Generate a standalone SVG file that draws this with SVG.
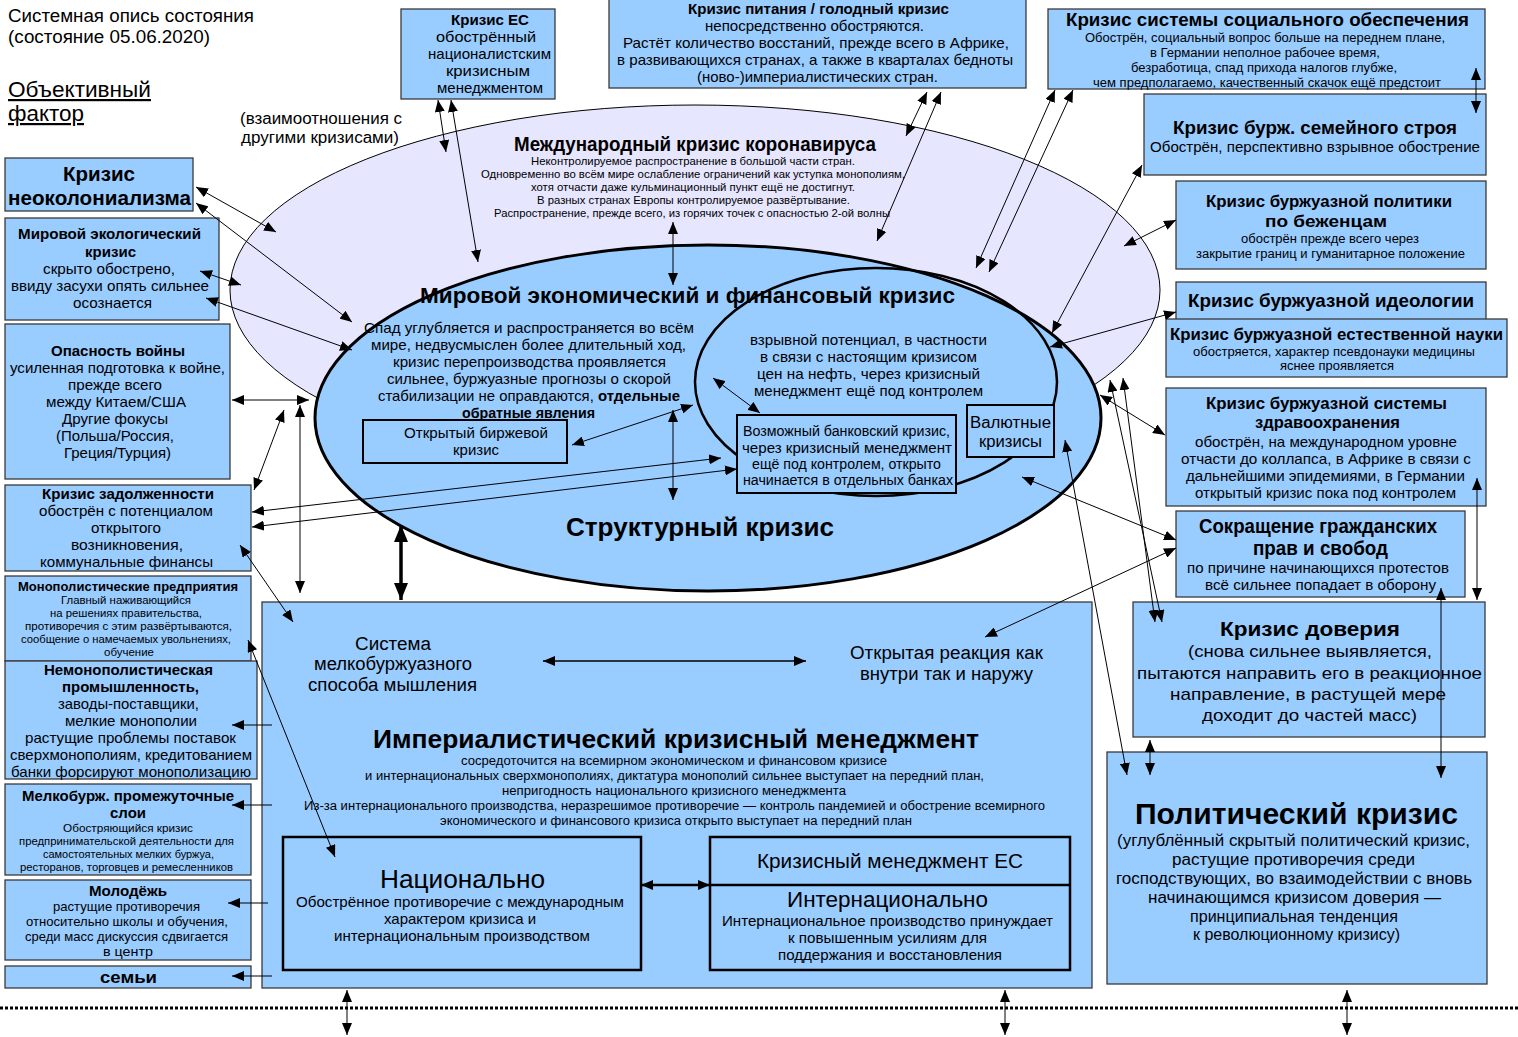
<svg xmlns="http://www.w3.org/2000/svg" width="1518" height="1037" viewBox="0 0 1518 1037">
<style>
text{font-family:"Liberation Sans",Arial,sans-serif;fill:#000}
.b{font-weight:bold}
.box{fill:#99ccff;stroke:#3a3a3a;stroke-width:1.3}
.c line,.c path{stroke:#000;stroke-width:1;fill:none}
</style>
<defs>
<marker id="a" markerUnits="userSpaceOnUse" markerWidth="13" markerHeight="10" refX="12" refY="5" orient="auto-start-reverse"><path d="M0,0 L12,5 L0,10 z" fill="#000"/></marker>
<marker id="A" markerUnits="userSpaceOnUse" markerWidth="18" markerHeight="14" refX="17" refY="7" orient="auto-start-reverse"><path d="M0,0 L17,7 L0,14 z" fill="#000"/></marker>
</defs>
<rect width="1518" height="1037" fill="#fff"/>

<g id="header">
<text x="8" y="22" font-size="18" textLength="246" lengthAdjust="spacingAndGlyphs">Системная опись состояния</text>
<text x="8" y="43" font-size="18" textLength="202" lengthAdjust="spacingAndGlyphs">(состояние 05.06.2020)</text>
<text x="8" y="97" font-size="22" textLength="143" lengthAdjust="spacingAndGlyphs" text-decoration="underline">Объективный</text>
<text x="8" y="121" font-size="22" textLength="76" lengthAdjust="spacingAndGlyphs" text-decoration="underline">фактор</text>
</g>

<g id="corona">
<ellipse cx="695" cy="290" rx="465" ry="185" fill="#e6e6ff" stroke="#000" stroke-width="1"/>
<text class="b" x="514" y="151" font-size="20" textLength="362" lengthAdjust="spacingAndGlyphs">Международный кризис коронавируса</text>
<text x="531" y="165" font-size="11" textLength="324" lengthAdjust="spacingAndGlyphs">Неконтролируемое распространение в большой части стран.</text>
<text x="481" y="178" font-size="11" textLength="424" lengthAdjust="spacingAndGlyphs">Одновременно во всём мире ослабление ограничений как уступка монополиям,</text>
<text x="531" y="191" font-size="11" textLength="324" lengthAdjust="spacingAndGlyphs">хотя отчасти даже кульминационный пункт ещё не достигнут.</text>
<text x="537" y="204" font-size="11" textLength="313" lengthAdjust="spacingAndGlyphs">В разных странах Европы контролируемое развёртывание.</text>
<text x="494" y="217" font-size="11" textLength="396" lengthAdjust="spacingAndGlyphs">Распространение, прежде всего, из горячих точек с опасностью 2-ой волны</text>
</g>
<text x="240" y="124" font-size="16" textLength="162" lengthAdjust="spacingAndGlyphs">(взаимоотношения с</text>
<text x="241" y="143" font-size="16" textLength="158" lengthAdjust="spacingAndGlyphs">другими кризисами)</text>

<g id="structural">
<ellipse cx="708" cy="418" rx="393" ry="173" fill="#99ccff" stroke="#000" stroke-width="3"/>
<text class="b" x="420" y="303" font-size="22" textLength="535" lengthAdjust="spacingAndGlyphs">Мировой экономический и финансовый кризис</text>
<text x="364" y="333" font-size="14.5" textLength="330" lengthAdjust="spacingAndGlyphs">Спад углубляется и распространяется во всём</text>
<text x="371" y="350" font-size="14.5" textLength="315" lengthAdjust="spacingAndGlyphs">мире, недвусмыслен более длительный ход,</text>
<text x="393" y="367" font-size="14.5" textLength="273" lengthAdjust="spacingAndGlyphs">кризис перепроизводства проявляется</text>
<text x="387" y="384" font-size="14.5" textLength="284" lengthAdjust="spacingAndGlyphs">сильнее, буржуазные прогнозы о скорой</text>
<text x="378" y="401" font-size="14.5" textLength="302" lengthAdjust="spacingAndGlyphs">стабилизации не оправдаются, <tspan class="b">отдельные</tspan></text>
<text class="b" x="462" y="418" font-size="14.5" textLength="133" lengthAdjust="spacingAndGlyphs">обратные явления</text>
<text class="b" x="566" y="536" font-size="25" textLength="268" lengthAdjust="spacingAndGlyphs">Структурный кризис</text>
</g>

<g id="stock">
<rect x="363" y="420" width="204" height="43" fill="#99ccff" stroke="#000" stroke-width="2"/>
<text x="404" y="438" font-size="14.5" textLength="144" lengthAdjust="spacingAndGlyphs">Открытый биржевой</text>
<text x="453" y="455" font-size="14.5" textLength="46" lengthAdjust="spacingAndGlyphs">кризис</text>
</g>

<g id="financial">
<ellipse cx="876" cy="382" rx="181" ry="114" fill="none" stroke="#000" stroke-width="2.5"/>
<text x="750" y="345" font-size="14.5" textLength="237" lengthAdjust="spacingAndGlyphs">взрывной потенциал, в частности</text>
<text x="760" y="362" font-size="14.5" textLength="217" lengthAdjust="spacingAndGlyphs">в связи с настоящим кризисом</text>
<text x="757" y="379" font-size="14.5" textLength="223" lengthAdjust="spacingAndGlyphs">цен на нефть, через кризисный</text>
<text x="754" y="396" font-size="14.5" textLength="229" lengthAdjust="spacingAndGlyphs">менеджмент ещё под контролем</text>
</g>

<g id="bank">
<rect x="737" y="415" width="219" height="78" fill="#99ccff" stroke="#000" stroke-width="2"/>
<text x="743" y="436" font-size="14" textLength="207" lengthAdjust="spacingAndGlyphs">Возможный банковский кризис,</text>
<text x="742" y="453" font-size="14" textLength="210" lengthAdjust="spacingAndGlyphs">через кризисный менеджмент</text>
<text x="752" y="469" font-size="14" textLength="189" lengthAdjust="spacingAndGlyphs">ещё под контролем, открыто</text>
<text x="743" y="485" font-size="14" textLength="210" lengthAdjust="spacingAndGlyphs">начинается в отдельных банках</text>
</g>

<g id="currency">
<rect x="967" y="405" width="87" height="52" fill="#99ccff" stroke="#000" stroke-width="2"/>
<text x="970" y="428" font-size="16" textLength="81" lengthAdjust="spacingAndGlyphs">Валютные</text>
<text x="979" y="447" font-size="16" textLength="63" lengthAdjust="spacingAndGlyphs">кризисы</text>
</g>

<g id="eu">
<rect class="box" x="401" y="9" width="154" height="90"/>
<text class="b" x="451" y="25" font-size="15" textLength="78" lengthAdjust="spacingAndGlyphs">Кризис ЕС</text>
<text x="436" y="42" font-size="15" textLength="100" lengthAdjust="spacingAndGlyphs">обострённый</text>
<text x="428" y="59" font-size="15" textLength="123" lengthAdjust="spacingAndGlyphs">националистским</text>
<text x="446" y="76" font-size="15" textLength="84" lengthAdjust="spacingAndGlyphs">кризисным</text>
<text x="437" y="93" font-size="15" textLength="106" lengthAdjust="spacingAndGlyphs">менеджментом</text>
</g>

<g id="food">
<rect class="box" x="609" y="-2" width="417" height="90"/>
<text class="b" x="688" y="14" font-size="15" textLength="261" lengthAdjust="spacingAndGlyphs">Кризис питания / голодный кризис</text>
<text x="705" y="31" font-size="15" textLength="219" lengthAdjust="spacingAndGlyphs">непосредственно обостряются.</text>
<text x="623" y="48" font-size="15" textLength="386" lengthAdjust="spacingAndGlyphs">Растёт количество восстаний, прежде всего в Африке,</text>
<text x="617" y="65" font-size="15" textLength="396" lengthAdjust="spacingAndGlyphs">в развивающихся странах, а также в кварталах бедноты</text>
<text x="697" y="82" font-size="15" textLength="241" lengthAdjust="spacingAndGlyphs">(ново-)империалистических стран.</text>
</g>

<g id="social">
<rect class="box" x="1048" y="9" width="437" height="80"/>
<text class="b" x="1066" y="26" font-size="19" textLength="403" lengthAdjust="spacingAndGlyphs">Кризис системы социального обеспечения</text>
<text x="1085" y="42" font-size="12.5" textLength="360" lengthAdjust="spacingAndGlyphs">Обострён, социальный вопрос больше на переднем плане,</text>
<text x="1150" y="57" font-size="12.5" textLength="230" lengthAdjust="spacingAndGlyphs">в Германии неполное рабочее время,</text>
<text x="1131" y="72" font-size="12.5" textLength="266" lengthAdjust="spacingAndGlyphs">безработица, спад прихода налогов глубже,</text>
<text x="1093" y="87" font-size="12.5" textLength="348" lengthAdjust="spacingAndGlyphs">чем предполагаемо, качественный скачок ещё предстоит</text>
</g>

<g id="family">
<rect class="box" x="1144" y="94" width="342" height="81"/>
<text class="b" x="1173" y="134" font-size="19" textLength="284" lengthAdjust="spacingAndGlyphs">Кризис бурж. семейного строя</text>
<text x="1150" y="152" font-size="15" textLength="330" lengthAdjust="spacingAndGlyphs">Обострён, перспективно взрывное обострение</text>
</g>

<g id="refugees">
<rect class="box" x="1176" y="181" width="310" height="88"/>
<text class="b" x="1206" y="207" font-size="16" textLength="246" lengthAdjust="spacingAndGlyphs">Кризис буржуазной политики</text>
<text class="b" x="1265" y="227" font-size="16" textLength="122" lengthAdjust="spacingAndGlyphs">по беженцам</text>
<text x="1241" y="243" font-size="12.5" textLength="178" lengthAdjust="spacingAndGlyphs">обострён прежде всего через</text>
<text x="1196" y="258" font-size="12.5" textLength="269" lengthAdjust="spacingAndGlyphs">закрытие границ и гуманитарное положение</text>
</g>

<g id="ideology">
<rect class="box" x="1176" y="282" width="310" height="38"/>
<text class="b" x="1188" y="307" font-size="19" textLength="286" lengthAdjust="spacingAndGlyphs">Кризис буржуазной идеологии</text>
</g>

<g id="science">
<rect class="box" x="1166" y="319" width="341" height="58"/>
<text class="b" x="1170" y="340" font-size="16.5" textLength="333" lengthAdjust="spacingAndGlyphs">Кризис буржуазной естественной науки</text>
<text x="1193" y="356" font-size="12.5" textLength="282" lengthAdjust="spacingAndGlyphs">обостряется, характер псевдонауки медицины</text>
<text x="1280" y="370" font-size="12.5" textLength="114" lengthAdjust="spacingAndGlyphs">яснее проявляется</text>
</g>

<g id="health">
<rect class="box" x="1166" y="388" width="320" height="118"/>
<text class="b" x="1206" y="409" font-size="16" textLength="241" lengthAdjust="spacingAndGlyphs">Кризис буржуазной системы</text>
<text class="b" x="1255" y="428" font-size="16" textLength="145" lengthAdjust="spacingAndGlyphs">здравоохранения</text>
<text x="1195" y="447" font-size="15" textLength="262" lengthAdjust="spacingAndGlyphs">обострён, на международном уровне</text>
<text x="1181" y="464" font-size="15" textLength="290" lengthAdjust="spacingAndGlyphs">отчасти до коллапса, в Африке в связи с</text>
<text x="1186" y="481" font-size="15" textLength="279" lengthAdjust="spacingAndGlyphs">дальнейшими эпидемиями, в Германии</text>
<text x="1195" y="498" font-size="15" textLength="261" lengthAdjust="spacingAndGlyphs">открытый кризис пока под контролем</text>
</g>

<g id="rights">
<rect class="box" x="1176" y="511" width="289" height="86"/>
<text class="b" x="1199" y="533" font-size="19.5" textLength="238" lengthAdjust="spacingAndGlyphs">Сокращение гражданских</text>
<text class="b" x="1253" y="555" font-size="19.5" textLength="135" lengthAdjust="spacingAndGlyphs">прав и свобод</text>
<text x="1187" y="573" font-size="15" textLength="262" lengthAdjust="spacingAndGlyphs">по причине начинающихся протестов</text>
<text x="1205" y="590" font-size="15" textLength="231" lengthAdjust="spacingAndGlyphs">всё сильнее попадает в оборону</text>
</g>

<g id="trust">
<rect class="box" x="1133" y="602" width="352" height="135"/>
<text class="b" x="1220" y="636" font-size="21" textLength="180" lengthAdjust="spacingAndGlyphs">Кризис доверия</text>
<text x="1188" y="657" font-size="17" textLength="244" lengthAdjust="spacingAndGlyphs">(снова сильнее выявляется,</text>
<text x="1137" y="679" font-size="17" textLength="345" lengthAdjust="spacingAndGlyphs">пытаются направить его в реакционное</text>
<text x="1170" y="700" font-size="17" textLength="276" lengthAdjust="spacingAndGlyphs">направление, в растущей мере</text>
<text x="1202" y="721" font-size="17" textLength="215" lengthAdjust="spacingAndGlyphs">доходит до частей масс)</text>
</g>

<g id="political">
<rect class="box" x="1107" y="752" width="380" height="232"/>
<text class="b" x="1135" y="824" font-size="29" textLength="323" lengthAdjust="spacingAndGlyphs">Политический кризис</text>
<text x="1117" y="846" font-size="16" textLength="353" lengthAdjust="spacingAndGlyphs">(углублённый скрытый политический кризис,</text>
<text x="1172" y="865" font-size="16" textLength="243" lengthAdjust="spacingAndGlyphs">растущие противоречия среди</text>
<text x="1116" y="884" font-size="16" textLength="356" lengthAdjust="spacingAndGlyphs">господствующих, во взаимодействии с вновь</text>
<text x="1148" y="903" font-size="16" textLength="293" lengthAdjust="spacingAndGlyphs">начинающимся кризисом доверия —</text>
<text x="1190" y="922" font-size="16" textLength="208" lengthAdjust="spacingAndGlyphs">принципиальная тенденция</text>
<text x="1193" y="940" font-size="16" textLength="207" lengthAdjust="spacingAndGlyphs">к революционному кризису)</text>
</g>

<g id="neocolonial">
<rect class="box" x="5" y="158" width="188" height="53"/>
<text class="b" x="63" y="181" font-size="20" textLength="72" lengthAdjust="spacingAndGlyphs">Кризис</text>
<text class="b" x="8" y="205" font-size="20" textLength="183" lengthAdjust="spacingAndGlyphs">неоколониализма</text>
</g>

<g id="ecology">
<rect class="box" x="5" y="218" width="214" height="102"/>
<text class="b" x="18" y="239" font-size="15" textLength="183" lengthAdjust="spacingAndGlyphs">Мировой экологический</text>
<text class="b" x="85" y="257" font-size="15" textLength="51" lengthAdjust="spacingAndGlyphs">кризис</text>
<text x="43" y="274" font-size="15" textLength="132" lengthAdjust="spacingAndGlyphs">скрыто обострено,</text>
<text x="11" y="291" font-size="15" textLength="198" lengthAdjust="spacingAndGlyphs">ввиду засухи опять сильнее</text>
<text x="73" y="308" font-size="15" textLength="79" lengthAdjust="spacingAndGlyphs">осознается</text>
</g>

<g id="war">
<rect class="box" x="5" y="324" width="225" height="155"/>
<text class="b" x="51" y="356" font-size="15" textLength="134" lengthAdjust="spacingAndGlyphs">Опасность войны</text>
<text x="10" y="373" font-size="15" textLength="215" lengthAdjust="spacingAndGlyphs">усиленная подготовка к войне,</text>
<text x="68" y="390" font-size="15" textLength="94" lengthAdjust="spacingAndGlyphs">прежде всего</text>
<text x="46" y="407" font-size="15" textLength="140" lengthAdjust="spacingAndGlyphs">между Китаем/США</text>
<text x="62" y="424" font-size="15" textLength="106" lengthAdjust="spacingAndGlyphs">Другие фокусы</text>
<text x="56" y="441" font-size="15" textLength="118" lengthAdjust="spacingAndGlyphs">(Польша/Россия,</text>
<text x="64" y="458" font-size="15" textLength="107" lengthAdjust="spacingAndGlyphs">Греция/Турция)</text>
</g>

<g id="debt">
<rect class="box" x="5" y="485" width="246" height="86"/>
<text class="b" x="42" y="499" font-size="15" textLength="172" lengthAdjust="spacingAndGlyphs">Кризис задолженности</text>
<text x="39" y="516" font-size="15" textLength="174" lengthAdjust="spacingAndGlyphs">обострён с потенциалом</text>
<text x="91" y="533" font-size="15" textLength="70" lengthAdjust="spacingAndGlyphs">открытого</text>
<text x="71" y="550" font-size="15" textLength="112" lengthAdjust="spacingAndGlyphs">возникновения,</text>
<text x="40" y="567" font-size="15" textLength="173" lengthAdjust="spacingAndGlyphs">коммунальные финансы</text>
</g>

<g id="monopoly">
<rect class="box" x="5" y="576" width="246" height="85"/>
<text class="b" x="18" y="591" font-size="13" textLength="220" lengthAdjust="spacingAndGlyphs">Монополистические предприятия</text>
<text x="61" y="604" font-size="11" textLength="130" lengthAdjust="spacingAndGlyphs">Главный наживающийся</text>
<text x="50" y="617" font-size="11" textLength="152" lengthAdjust="spacingAndGlyphs">на решениях правительства,</text>
<text x="25" y="630" font-size="11" textLength="207" lengthAdjust="spacingAndGlyphs">противоречия с этим развёртываются,</text>
<text x="21" y="643" font-size="11" textLength="210" lengthAdjust="spacingAndGlyphs">сообщение о намечаемых увольнениях,</text>
<text x="104" y="656" font-size="11" textLength="50" lengthAdjust="spacingAndGlyphs">обучение</text>
</g>

<g id="nonmonopoly">
<rect class="box" x="5" y="661" width="252" height="118"/>
<text class="b" x="44" y="675" font-size="15" textLength="169" lengthAdjust="spacingAndGlyphs">Немонополистическая</text>
<text class="b" x="62" y="692" font-size="15" textLength="137" lengthAdjust="spacingAndGlyphs">промышленность,</text>
<text x="58" y="709" font-size="15" textLength="141" lengthAdjust="spacingAndGlyphs">заводы-поставщики,</text>
<text x="65" y="726" font-size="15" textLength="132" lengthAdjust="spacingAndGlyphs">мелкие монополии</text>
<text x="25" y="743" font-size="15" textLength="211" lengthAdjust="spacingAndGlyphs">растущие проблемы поставок</text>
<text x="10" y="760" font-size="15" textLength="242" lengthAdjust="spacingAndGlyphs">сверхмонополиям, кредитованием</text>
<text x="11" y="777" font-size="15" textLength="240" lengthAdjust="spacingAndGlyphs">банки форсируют монополизацию</text>
</g>

<g id="pettybourg">
<rect class="box" x="5" y="784" width="246" height="91"/>
<text class="b" x="22" y="801" font-size="15" textLength="212" lengthAdjust="spacingAndGlyphs">Мелкобурж. промежуточные</text>
<text class="b" x="110" y="818" font-size="15" textLength="36" lengthAdjust="spacingAndGlyphs">слои</text>
<text x="63" y="832" font-size="11" textLength="130" lengthAdjust="spacingAndGlyphs">Обостряющийся кризис</text>
<text x="19" y="845" font-size="11" textLength="215" lengthAdjust="spacingAndGlyphs">предпринимательской деятельности для</text>
<text x="43" y="858" font-size="11" textLength="171" lengthAdjust="spacingAndGlyphs">самостоятельных мелких буржуа,</text>
<text x="20" y="871" font-size="11" textLength="213" lengthAdjust="spacingAndGlyphs">ресторанов, торговцев и ремесленников</text>
</g>

<g id="youth">
<rect class="box" x="5" y="880" width="246" height="80"/>
<text class="b" x="89" y="896" font-size="15" textLength="78" lengthAdjust="spacingAndGlyphs">Молодёжь</text>
<text x="53" y="911" font-size="13" textLength="147" lengthAdjust="spacingAndGlyphs">растущие противоречия</text>
<text x="26" y="926" font-size="13" textLength="202" lengthAdjust="spacingAndGlyphs">относительно школы и обучения,</text>
<text x="25" y="941" font-size="13" textLength="203" lengthAdjust="spacingAndGlyphs">среди масс дискуссия сдвигается</text>
<text x="103" y="956" font-size="13" textLength="50" lengthAdjust="spacingAndGlyphs">в центр</text>
</g>

<g id="families">
<rect class="box" x="5" y="966" width="246" height="22"/>
<text class="b" x="100" y="983" font-size="17" textLength="57" lengthAdjust="spacingAndGlyphs">семьи</text>
</g>

<g id="imperialist">
<rect class="box" x="262" y="602" width="830" height="386"/>
<text x="355" y="650" font-size="18" textLength="76" lengthAdjust="spacingAndGlyphs">Система</text>
<text x="314" y="670" font-size="18" textLength="158" lengthAdjust="spacingAndGlyphs">мелкобуржуазного</text>
<text x="308" y="691" font-size="18" textLength="169" lengthAdjust="spacingAndGlyphs">способа мышления</text>
<text x="850" y="659" font-size="18" textLength="193" lengthAdjust="spacingAndGlyphs">Открытая реакция как</text>
<text x="860" y="680" font-size="18" textLength="173" lengthAdjust="spacingAndGlyphs">внутри так и наружу</text>
<text class="b" x="373" y="748" font-size="26" textLength="606" lengthAdjust="spacingAndGlyphs">Империалистический кризисный менеджмент</text>
<text x="461" y="765" font-size="12.5" textLength="426" lengthAdjust="spacingAndGlyphs">сосредоточится на всемирном экономическом и финансовом кризисе</text>
<text x="365" y="780" font-size="12.5" textLength="619" lengthAdjust="spacingAndGlyphs">и интернациональных сверхмонополиях, диктатура монополий сильнее выступает на передний план,</text>
<text x="502" y="795" font-size="12.5" textLength="344" lengthAdjust="spacingAndGlyphs">непригодность национального кризисного менеджмента</text>
<text x="304" y="810" font-size="12.5" textLength="741" lengthAdjust="spacingAndGlyphs">Из-за интернационального производства, неразрешимое противоречие — контроль пандемией и обострение всемирного</text>
<text x="440" y="825" font-size="12.5" textLength="472" lengthAdjust="spacingAndGlyphs">экономического и финансового кризиса открыто выступает на передний план</text>
</g>

<g id="national">
<rect x="283" y="837" width="358" height="133" fill="#99ccff" stroke="#000" stroke-width="2.5"/>
<text x="380" y="888" font-size="26" textLength="165" lengthAdjust="spacingAndGlyphs">Национально</text>
<text x="296" y="907" font-size="14.5" textLength="328" lengthAdjust="spacingAndGlyphs">Обострённое противоречие с международным</text>
<text x="384" y="924" font-size="14.5" textLength="152" lengthAdjust="spacingAndGlyphs">характером кризиса и</text>
<text x="334" y="941" font-size="14.5" textLength="256" lengthAdjust="spacingAndGlyphs">интернациональным производством</text>
</g>

<g id="international">
<rect x="710" y="837" width="360" height="133" fill="#99ccff" stroke="#000" stroke-width="2.5"/>
<line x1="710" y1="885" x2="1070" y2="885" stroke="#000" stroke-width="2.5"/>
<text x="757" y="868" font-size="20" textLength="266" lengthAdjust="spacingAndGlyphs">Кризисный менеджмент ЕС</text>
<text x="787" y="907" font-size="22" textLength="201" lengthAdjust="spacingAndGlyphs">Интернационально</text>
<text x="722" y="926" font-size="14.5" textLength="331" lengthAdjust="spacingAndGlyphs">Интернациональное производство принуждает</text>
<text x="788" y="943" font-size="14.5" textLength="199" lengthAdjust="spacingAndGlyphs">к повышенным усилиям для</text>
<text x="778" y="960" font-size="14.5" textLength="224" lengthAdjust="spacingAndGlyphs">поддержания и восстановления</text>
</g>

<g id="connectors" class="c">
<line x1="196" y1="187" x2="276" y2="232" marker-start="url(#a)" marker-end="url(#a)"/>
<line x1="196" y1="203" x2="352" y2="322" marker-start="url(#a)" marker-end="url(#a)"/>
<line x1="200" y1="271" x2="241" y2="285" marker-start="url(#a)" marker-end="url(#a)"/>
<line x1="206" y1="298" x2="352" y2="350" marker-start="url(#a)" marker-end="url(#a)"/>
<line x1="232" y1="400" x2="309" y2="400" marker-start="url(#a)" marker-end="url(#a)"/>
<line x1="254" y1="490" x2="284" y2="410" marker-start="url(#a)" marker-end="url(#a)"/>
<line x1="300" y1="405" x2="300" y2="593" marker-start="url(#a)" marker-end="url(#a)"/>
<line x1="252" y1="512" x2="721" y2="458" marker-start="url(#a)" marker-end="url(#a)"/>
<line x1="252" y1="527" x2="737" y2="469" marker-start="url(#a)" marker-end="url(#a)"/>
<line x1="240" y1="545" x2="293" y2="622" marker-start="url(#a)" marker-end="url(#a)"/>
<line x1="248" y1="640" x2="335" y2="857" marker-start="url(#a)" marker-end="url(#a)"/>
<line x1="272" y1="725" x2="232" y2="725" marker-end="url(#a)"/>
<line x1="272" y1="805" x2="232" y2="805" marker-end="url(#a)"/>
<line x1="268" y1="903" x2="228" y2="903" marker-end="url(#a)"/>
<line x1="272" y1="976" x2="232" y2="976" marker-end="url(#a)"/>
<line x1="438" y1="100" x2="446" y2="152" marker-start="url(#a)" marker-end="url(#a)"/>
<line x1="451" y1="100" x2="478" y2="262" marker-start="url(#a)" marker-end="url(#a)"/>
<line x1="673" y1="222" x2="673" y2="285" marker-start="url(#a)" marker-end="url(#a)"/>
<line x1="927" y1="92" x2="906" y2="136" marker-start="url(#a)" marker-end="url(#a)"/>
<line x1="941" y1="92" x2="877" y2="241" marker-start="url(#a)" marker-end="url(#a)"/>
<line x1="1055" y1="90" x2="976" y2="268" marker-start="url(#a)" marker-end="url(#a)"/>
<line x1="1073" y1="90" x2="989" y2="272" marker-start="url(#a)" marker-end="url(#a)"/>
<line x1="1476" y1="68" x2="1476" y2="113" marker-start="url(#a)" marker-end="url(#a)"/>
<line x1="1142" y1="165" x2="1052" y2="333" marker-start="url(#a)" marker-end="url(#a)"/>
<line x1="1176" y1="220" x2="1124" y2="246" marker-start="url(#a)" marker-end="url(#a)"/>
<line x1="1176" y1="312" x2="1050" y2="347" marker-start="url(#a)" marker-end="url(#a)"/>
<line x1="1165" y1="435" x2="1100" y2="395" marker-start="url(#a)" marker-end="url(#a)"/>
<line x1="1176" y1="540" x2="1022" y2="477" marker-start="url(#a)" marker-end="url(#a)"/>
<line x1="1176" y1="548" x2="985" y2="637" marker-start="url(#a)" marker-end="url(#a)"/>
<line x1="1162" y1="622" x2="1110" y2="380" marker-start="url(#a)" marker-end="url(#a)"/>
<line x1="1155" y1="622" x2="1123" y2="378" marker-start="url(#a)" marker-end="url(#a)"/>
<line x1="1127" y1="775" x2="1065" y2="440" marker-start="url(#a)" marker-end="url(#a)"/>
<line x1="1150" y1="740" x2="1150" y2="775" marker-start="url(#a)" marker-end="url(#a)"/>
<line x1="1441" y1="588" x2="1441" y2="778" marker-start="url(#a)" marker-end="url(#a)"/>
<line x1="1477" y1="478" x2="1477" y2="600" marker-start="url(#a)" marker-end="url(#a)"/>
<line x1="572" y1="445" x2="693" y2="405" marker-start="url(#a)" marker-end="url(#a)"/>
<line x1="673" y1="410" x2="673" y2="500" marker-start="url(#a)" marker-end="url(#a)"/>
<line x1="713" y1="378" x2="760" y2="413" marker-start="url(#a)" marker-end="url(#a)"/>
<line x1="543" y1="661" x2="806" y2="661" style="stroke-width:1.5" marker-start="url(#a)" marker-end="url(#a)"/>
<line x1="401" y1="525" x2="401" y2="600" style="stroke-width:3.5" marker-start="url(#A)" marker-end="url(#A)"/>
<line x1="641" y1="885" x2="710" y2="885" style="stroke-width:2.5" marker-start="url(#a)" marker-end="url(#a)"/>
<line x1="347" y1="990" x2="347" y2="1035" marker-start="url(#a)" marker-end="url(#a)"/>
<line x1="1005" y1="990" x2="1005" y2="1035" marker-start="url(#a)" marker-end="url(#a)"/>
<line x1="1347" y1="990" x2="1347" y2="1035" marker-start="url(#a)" marker-end="url(#a)"/>
</g>
<line x1="0" y1="1008" x2="1518" y2="1008" stroke="#000" stroke-width="3" stroke-dasharray="3,2"/>
</svg>
